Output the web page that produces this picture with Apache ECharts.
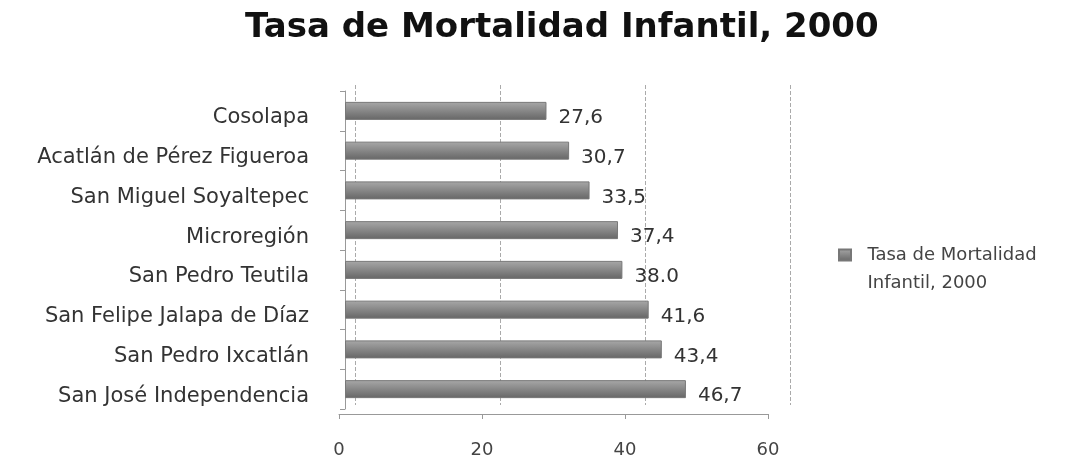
<!DOCTYPE html>
<html>
<head>
<meta charset="utf-8">
<script src="https://cdn.jsdelivr.net/npm/echarts@6/dist/echarts.min.js"></script>
<style>
  html, body { margin: 0; padding: 0; background: #fff; }
  #chart { width: 1089px; height: 464px; }
</style>
</head>
<body>
<div id="chart"></div>
<script>
// municipios, de arriba hacia abajo
var municipios = [
    'Cosolapa',
    'Acatlán de Pérez Figueroa',
    'San Miguel Soyaltepec',
    'Microregión',
    'San Pedro Teutila',
    'San Felipe Jalapa de Díaz',
    'San Pedro Ixcatlán',
    'San José Independencia'
];
var tasas = [27.6, 30.7, 33.5, 37.4, 38.0, 41.6, 43.4, 46.7];
var etiquetas = ['27,6', '30,7', '33,5', '37,4', '38.0', '41,6', '43,4', '46,7'];
var ticksX = [0, 20, 40, 60];

var serieNombre = 'Tasa de Mortalidad Infantil, 2000';
var fuente = 'DejaVu Sans';

var chart = echarts.init(document.getElementById('chart'));

var option = {
    backgroundColor: '#fff',
    animation: false,
    title: {
        text: 'Tasa de Mortalidad Infantil, 2000',
        left: 240,
        top: 6,
        textStyle: { fontFamily: fuente, fontWeight: 'bold', fontSize: 34, color: '#111' }
    },
    legend: {
        left: 838,
        top: 213,
        padding: 0,
        orient: 'vertical',
        itemWidth: 12,
        itemHeight: 11,
        itemGap: 4,
        icon: 'rect',
        data: [serieNombre],
        // linea vacia arriba para que el cuadro quede junto a la primera linea
        formatter: function () { return ' \n  Tasa de Mortalidad\n  Infantil, 2000'; },
        textStyle: { fontFamily: fuente, fontSize: 18, color: '#444', lineHeight: 28 }
    },
    grid: [
        // barras
        { left: 345, top: 91, width: 438, height: 318 },
        // eje frontal (piso)
        { left: 339, top: 100, width: 429, height: 314 },
        // pared del fondo
        { left: 355, top: 85, width: 435, height: 320 }
    ],
    xAxis: [
        {
            gridIndex: 0, type: 'value', min: 0, max: 60, interval: 20,
            axisLine: { show: false }, axisTick: { show: false },
            axisLabel: { show: false }, splitLine: { show: false }
        },
        {
            gridIndex: 1, type: 'value', min: 0, max: 60, interval: 20,
            axisLine: { show: true, lineStyle: { color: '#999', width: 1 } },
            axisTick: { show: true, length: 5, lineStyle: { color: '#999' } },
            axisLabel: {
                margin: 27, fontFamily: fuente, fontSize: 18, color: '#444',
                formatter: function (v) { return ticksX.indexOf(v) >= 0 ? String(v) : ''; }
            },
            splitLine: { show: false }
        },
        {
            gridIndex: 2, type: 'value', min: 0, max: 60, interval: 20,
            axisLine: { show: false }, axisTick: { show: false },
            axisLabel: { show: false },
            splitLine: { show: true, lineStyle: { color: '#aaa', type: 'dashed', width: 1 } }
        }
    ],
    yAxis: [
        {
            gridIndex: 0, type: 'category', inverse: true, data: municipios,
            axisLine: { show: true, lineStyle: { color: '#999' } },
            axisTick: { show: true, length: 5, inside: false, lineStyle: { color: '#999' } },
            axisLabel: {
                margin: 36, fontFamily: fuente, fontSize: 21, color: '#333',
                verticalAlign: 'top', lineHeight: 14
            }
        },
        {
            gridIndex: 1, type: 'value', show: false
        },
        {
            gridIndex: 2, type: 'value', show: false
        }
    ],
    series: [
        {
            name: serieNombre,
            type: 'bar',
            xAxisIndex: 0,
            yAxisIndex: 0,
            data: tasas,
            barWidth: 18,
            itemStyle: {
                color: new echarts.graphic.LinearGradient(0, 0, 0, 1, [
                    { offset: 0, color: '#a8a8a8' },
                    { offset: 0.45, color: '#8a8a8a' },
                    { offset: 1, color: '#666' }
                ]),
                borderColor: '#777',
                borderWidth: 1
            },
            label: {
                show: true,
                position: 'right',
                distance: 12,
                offset: [0, 7],
                fontFamily: fuente,
                fontSize: 20,
                color: '#333',
                formatter: function (p) { return etiquetas[p.dataIndex]; }
            }
        }
    ]
};

chart.setOption(option);
</script>
</body>
</html>
